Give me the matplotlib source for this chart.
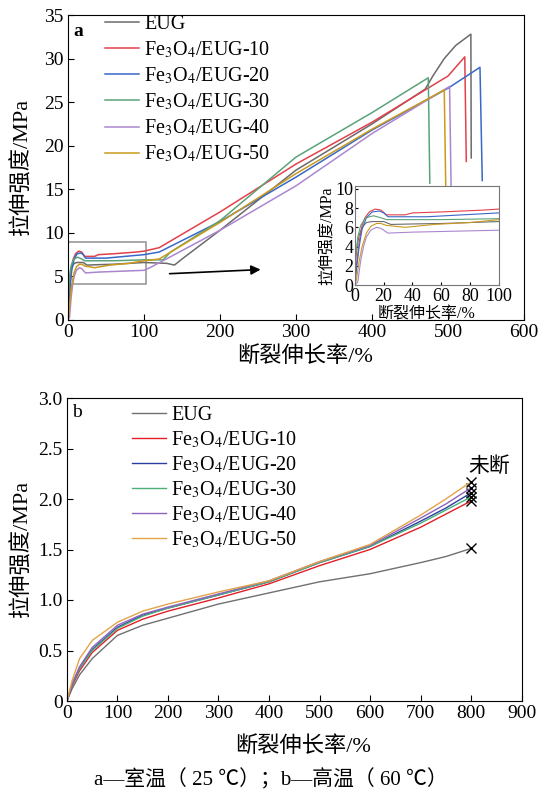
import matplotlib
matplotlib.use("Agg")
import matplotlib.pyplot as plt

plt.rcParams['font.family'] = ['Liberation Serif', 'Noto Sans CJK SC']
plt.rcParams['mathtext.fontset'] = 'stix'
plt.rcParams['axes.unicode_minus'] = False

labels = ['EUG', 'Fe$_3$O$_4$/EUG-10', 'Fe$_3$O$_4$/EUG-20',
          'Fe$_3$O$_4$/EUG-30', 'Fe$_3$O$_4$/EUG-40', 'Fe$_3$O$_4$/EUG-50']

# (a) room temperature, 25 C
a_eug_x = [0, 0.5, 1.5, 3, 5, 8, 12, 20, 25, 40, 60, 100, 130, 140, 150, 200, 300, 400, 470, 480, 495, 510, 530, 530.5]
a_eug_y = [0, 2.5, 4.0, 5.2, 6.0, 6.5, 6.6, 6.6, 6.3, 6.35, 6.4, 6.6, 6.5, 6.3, 7.0, 10.3, 17.2, 22.5, 26.5, 28.0, 30.0, 31.5, 32.8, 18.6]
a_10_x = [0, 1, 3, 5, 7, 10, 14, 18, 22, 35, 40, 60, 90, 100, 120, 200, 300, 400, 500, 522, 524]
a_10_y = [0, 2, 4.5, 6.2, 7.0, 7.6, 7.9, 7.8, 7.3, 7.3, 7.5, 7.6, 7.8, 7.9, 8.3, 12.4, 17.9, 22.7, 28.0, 30.2, 18.2]
a_20_x = [0, 1, 3, 5, 8, 12, 17, 20, 23, 50, 100, 120, 200, 300, 400, 500, 542, 545]
a_20_y = [0, 1.5, 4, 5.8, 7.0, 7.6, 7.7, 7.5, 7.1, 7.1, 7.5, 7.8, 11.3, 16.4, 21.8, 26.6, 29.0, 16.0]
a_30_x = [0, 0.5, 2, 4, 7, 10, 13, 18, 22, 60, 100, 125, 135, 200, 300, 400, 474, 476]
a_30_y = [0, 3, 5, 6.2, 6.9, 7.1, 7.2, 7.0, 6.8, 6.8, 6.9, 6.9, 7.8, 11.4, 18.7, 23.8, 27.8, 15.7]
a_40_x = [0, 2, 4, 6, 8, 11, 15, 18, 21, 23, 40, 100, 110, 200, 300, 400, 502, 504]
a_40_y = [0, 0.3, 2.5, 4, 5.0, 5.7, 6.0, 5.9, 5.6, 5.4, 5.5, 5.7, 6.1, 10.3, 15.4, 21.4, 26.8, 15.3]
a_50_x = [0, 1, 3, 5, 8, 11, 15, 18, 22, 35, 55, 80, 100, 120, 200, 300, 400, 495, 497]
a_50_y = [0, 0.5, 2.5, 4, 5.4, 6.1, 6.4, 6.4, 6.2, 6.0, 6.3, 6.5, 6.8, 7.0, 11.2, 16.8, 21.9, 26.4, 15.0]

# (b) high temperature, 60 C
b_x = [0, 10, 25, 50, 100, 150, 200, 300, 400, 500, 600, 700, 750, 800]
b_eug = [0, 0.12, 0.26, 0.42, 0.65, 0.75, 0.82, 0.96, 1.07, 1.18, 1.26, 1.37, 1.43, 1.51]
b_10 = [0, 0.15, 0.30, 0.48, 0.70, 0.81, 0.89, 1.02, 1.16, 1.34, 1.50, 1.72, 1.85, 1.98]
b_20 = [0, 0.16, 0.33, 0.51, 0.73, 0.85, 0.92, 1.05, 1.18, 1.37, 1.53, 1.78, 1.91, 2.06]
b_30 = [0, 0.16, 0.32, 0.50, 0.72, 0.84, 0.92, 1.05, 1.18, 1.37, 1.53, 1.76, 1.89, 2.02]
b_40 = [0, 0.17, 0.34, 0.53, 0.75, 0.86, 0.93, 1.06, 1.19, 1.38, 1.54, 1.81, 1.95, 2.11]
b_50 = [0, 0.20, 0.42, 0.60, 0.78, 0.89, 0.96, 1.08, 1.19, 1.38, 1.55, 1.84, 2.00, 2.17]

colors_a = ['#6b6b6b', '#e2414a', '#3868c8', '#5aa37a', '#ab86d0', '#c99a1e']
colors_b = ['#707070', '#e31e26', '#2b3f9e', '#4caf7a', '#8f62bd', '#e3a448']

a_series = [(a_eug_x, a_eug_y), (a_10_x, a_10_y), (a_20_x, a_20_y),
            (a_30_x, a_30_y), (a_40_x, a_40_y), (a_50_x, a_50_y)]
b_series = [b_eug, b_10, b_20, b_30, b_40, b_50]

fig = plt.figure(figsize=(5.41, 8.0), dpi=100)

# ---- panel a
ax = fig.add_axes([0.1257, 0.6, 0.843, 0.38125])
for (x, y), c, lab in zip(a_series, colors_a, labels):
    ax.plot(x, y, color=c, lw=1.1, label=lab)
ax.set_xlim(0, 600)
ax.set_ylim(0, 35)
ax.set_xticks(range(0, 601, 100))
ax.set_yticks(range(0, 36, 5))
ax.tick_params(direction='in', labelsize=14, length=4, pad=3, top=False, right=False)
ax.set_xlabel('断裂伸长率/%', fontsize=16, labelpad=6)
ax.xaxis.set_label_coords(0.52, -0.085)
ax.set_ylabel('拉伸强度/MPa', fontsize=16, labelpad=8)
ax.text(0.012, 0.975, 'a', transform=ax.transAxes, fontsize=14, fontweight='bold', va='top', ha='left')
ax.legend(loc='upper left', bbox_to_anchor=(0.081, 1.0), frameon=False, fontsize=14.5,
          handlelength=1.7, handletextpad=0.26, labelspacing=0.27, borderaxespad=0, borderpad=0)
ax.add_patch(plt.Rectangle((0, 4.1), 103, 4.8, fill=False, ec='#999999', lw=1.2))
ax.annotate('', xy=(257, 5.8), xytext=(130, 5.3),
            arrowprops=dict(arrowstyle='-|>', color='black', lw=1.2, mutation_scale=14))

# inset
ins = fig.add_axes([0.656, 0.64375, 0.266, 0.12375])
for (x, y), c in zip(a_series, colors_a):
    ins.plot(x, y, color=c, lw=0.8)
ins.set_xlim(0, 100)
ins.set_ylim(0, 10.3)
ins.set_xticks(range(0, 101, 20))
ins.set_yticks(range(0, 11, 2))
ins.tick_params(direction='in', labelsize=13, length=2.5, pad=1)
ins.tick_params(axis='x', pad=2.5)
ins.set_xlabel('断裂伸长率/%', fontsize=11.5, labelpad=0.5)
ins.set_ylabel('拉伸强度/MPa', fontsize=11.5, labelpad=0)
for s in ins.spines.values():
    s.set_color('#777777')

# ---- panel b
bx = fig.add_axes([0.1238, 0.12375, 0.8402, 0.37875])
for y, c, lab in zip(b_series, colors_b, labels):
    bx.plot(b_x, y, color=c, lw=1.0, label=lab)
    bx.plot(b_x[-1], y[-1], marker='x', color='black', ms=7, mew=1.0, ls='none')
bx.set_xlim(0, 900)
bx.set_ylim(0, 3.0)
bx.set_xticks(range(0, 901, 100))
bx.set_yticks([0, 0.5, 1.0, 1.5, 2.0, 2.5, 3.0])
bx.set_yticklabels(['0', '0.5', '1.0', '1.5', '2.0', '2.5', '3.0'])
bx.tick_params(direction='in', labelsize=14, length=4, pad=3)
bx.set_xlabel('断裂伸长率/%', fontsize=16)
bx.xaxis.set_label_coords(0.52, -0.115)
bx.set_ylabel('拉伸强度/MPa', fontsize=16, labelpad=4)
bx.text(0.012, 0.98, 'b', transform=bx.transAxes, fontsize=14, va='top', ha='left')
bx.text(835, 2.32, '未断', fontsize=15, ha='center', va='center')
bx.legend(loc='upper left', bbox_to_anchor=(0.143, 0.975), frameon=False, fontsize=14.5,
          handlelength=1.7, handletextpad=0.26, labelspacing=0.22, borderaxespad=0, borderpad=0)

fig.text(0.5, 0.012, 'a—室温（ 25 ℃）；b—高温（ 60 ℃）', ha='center', va='bottom', fontsize=15)

fig.savefig('out.png', dpi=100)
